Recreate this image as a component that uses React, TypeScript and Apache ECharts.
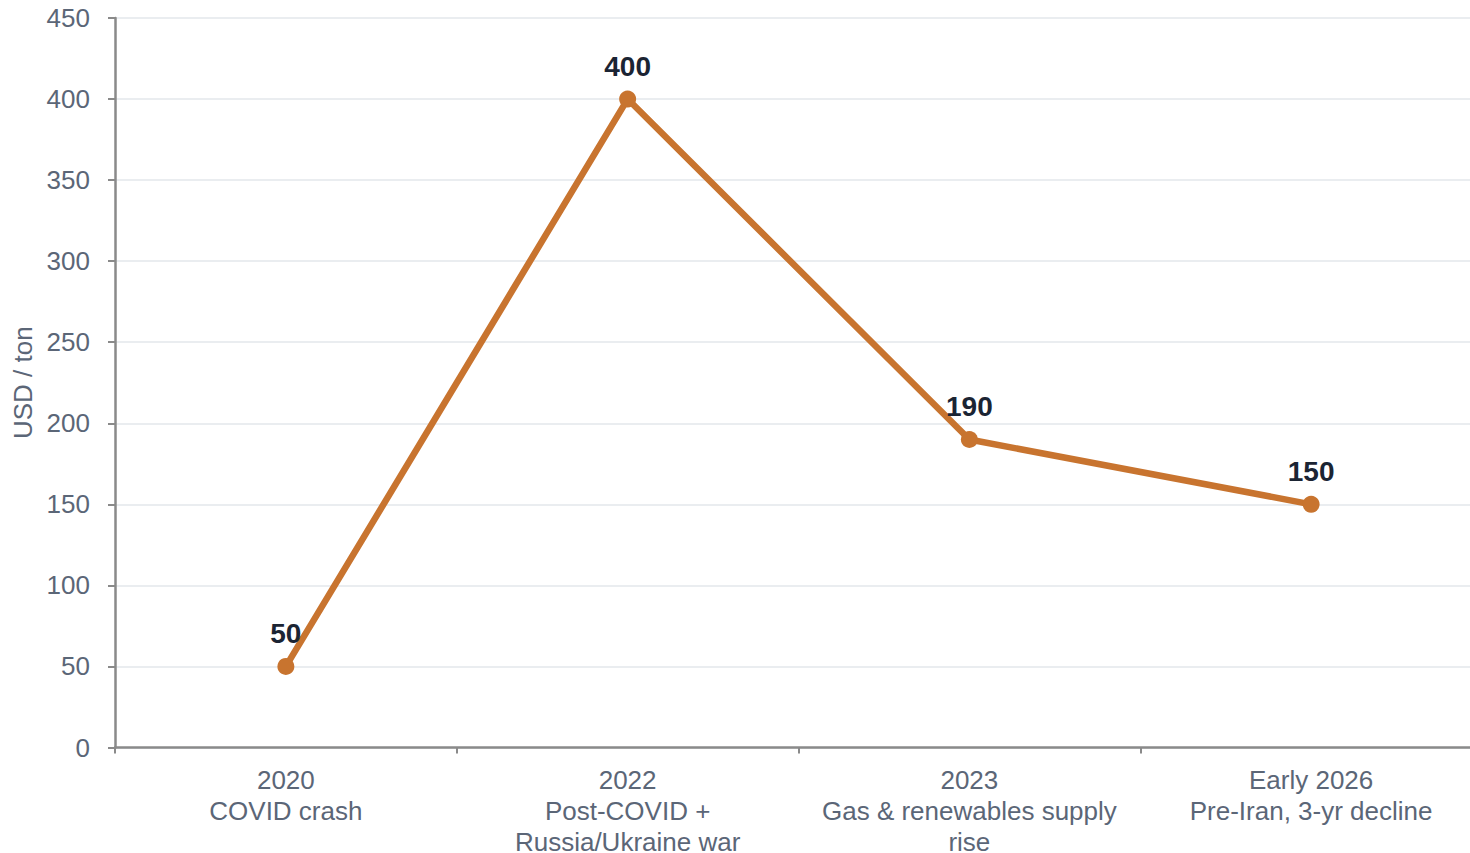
import React, { useEffect, useRef } from "react";
import * as echarts from "echarts";

const categories = [
  "2020\nCOVID crash",
  "2022\nPost-COVID +\nRussia/Ukraine war",
  "2023\nGas & renewables supply\nrise",
  "Early 2026\nPre-Iran, 3-yr decline",
];
const prices = [50, 400, 190, 150];
const yTicks = { min: 0, max: 450, interval: 50 };
const yAxisName = "USD / ton";

export default function App() {
  const ref = useRef<HTMLDivElement>(null);
  useEffect(() => {
    if (!ref.current) return;
    const chart = echarts.init(ref.current, null, { renderer: "svg" });
    const font = "'Liberation Sans', Arial, sans-serif";
    const labelColor = "#5b6677";
    chart.setOption({
      animation: false,
      backgroundColor: "#ffffff",
      grid: {
        left: 115,
        right: -12,
        top: 18,
        bottom: 105.5,
        containLabel: false,
        outerBoundsMode: "none",
      },
      xAxis: {
        type: "category",
        data: categories,
        boundaryGap: true,
        axisLine: { lineStyle: { color: "#8a8a8a", width: 2.5 } },
        axisTick: { show: true, alignWithLabel: false, length: 6, lineStyle: { color: "#8a8a8a", width: 2 } },
        axisLabel: {
          interval: 0,
          margin: 17,
          color: labelColor,
          fontFamily: font,
          fontSize: 26,
          lineHeight: 31,
        },
        splitLine: { show: false },
      },
      yAxis: {
        type: "value",
        min: yTicks.min,
        max: yTicks.max,
        interval: yTicks.interval,
        name: yAxisName,
        nameLocation: "middle",
        nameGap: 74,
        nameTextStyle: { color: labelColor, fontFamily: font, fontSize: 26 },
        axisLine: { show: true, lineStyle: { color: "#8a8a8a", width: 2.5 } },
        axisTick: { show: true, length: 7, lineStyle: { color: "#8a8a8a", width: 2 } },
        axisLabel: { margin: 25, color: labelColor, fontFamily: font, fontSize: 26 },
        splitLine: { show: true, lineStyle: { color: "#e3e7eb", width: 1.5 } },
      },
      series: [
        {
          type: "line",
          data: prices,
          symbol: "circle",
          symbolSize: 17,
          itemStyle: { color: "#c8742f" },
          lineStyle: { color: "#c8742f", width: 6.5 },
          label: {
            show: true,
            position: "top",
            distance: 10,
            color: "#1b2433",
            fontFamily: font,
            fontSize: 28,
            fontWeight: "bold",
          },
        },
      ],
    });
    return () => chart.dispose();
  }, []);
  return (
    <div
      ref={ref}
      style={{ position: "absolute", left: 0, top: 0, width: 1470, height: 853 }}
    />
  );
}
